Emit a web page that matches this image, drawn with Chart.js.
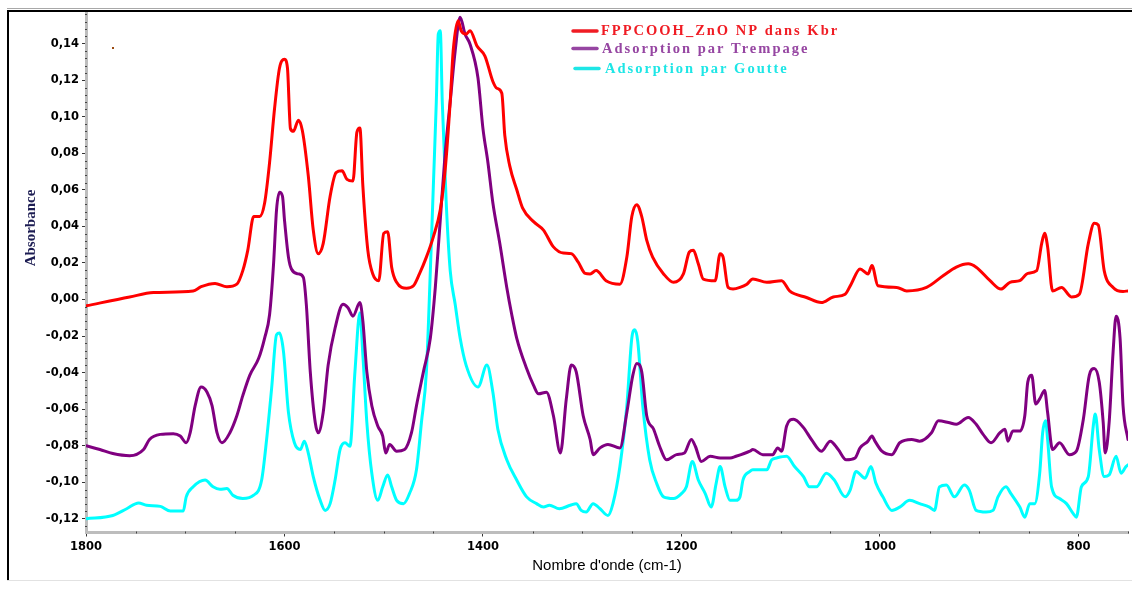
<!DOCTYPE html>
<html>
<head>
<meta charset="utf-8">
<script src="https://cdn.jsdelivr.net/npm/chart.js@4.4.1/dist/chart.umd.min.js"></script>
<style>
  html, body { margin: 0; padding: 0; background: #fff; }
  #wrap { width: 1132px; height: 595px; }
</style>
</head>
<body>
<div id="wrap"><canvas id="spectre" width="1132" height="595"></canvas></div>
<script>
// spectres : [nombre d'onde (cm-1), absorbance]
const seriesLabels = ['FPPCOOH_ZnO NP dans Kbr', 'Adsorption par Trempage', 'Adsorption par Goutte'];

const kbrSpectrum = [
  [1800,-0.0035],[1756,0.0014],[1732,0.0038],[1692,0.0047],[1684,0.0070],[1670,0.0088],[1658,0.0070],[1648,0.0084],
  [1642,0.0158],[1637,0.0269],[1631,0.0454],[1625,0.0454],[1620,0.0528],[1615,0.0750],[1610,0.1045],[1605,0.1267],
  [1600,0.1314],[1597,0.1267],[1594,0.0935],[1591,0.0920],[1586,0.0981],[1582,0.0925],[1576,0.0676],[1571,0.0380],
  [1566,0.0251],[1561,0.0306],[1554,0.0565],[1548,0.0694],[1542,0.0704],[1537,0.0657],[1531,0.0648],[1527,0.0916],
  [1524,0.0938],[1521,0.0620],[1516,0.0269],[1511,0.0140],[1505,0.0103],[1500,0.0362],[1496,0.0371],[1492,0.0177],
  [1487,0.0094],[1477,0.0062],[1470,0.0075],[1464,0.0140],[1457,0.0232],[1450,0.0343],[1443,0.0491],[1438,0.0713],
  [1433,0.1082],[1430,0.1360],[1425,0.1526],[1422,0.1471],[1417,0.1452],[1413,0.1471],[1406,0.1387],[1398,0.1332],
  [1390,0.1193],[1386,0.1156],[1381,0.1129],[1378,0.0898],[1373,0.0731],[1366,0.0602],[1360,0.0500],[1349,0.0426],
  [1339,0.0380],[1329,0.0288],[1319,0.0254],[1311,0.0251],[1304,0.0204],[1297,0.0143],[1292,0.0140],[1286,0.0158],
  [1276,0.0103],[1262,0.0084],[1255,0.0232],[1250,0.0454],[1245,0.0519],[1240,0.0454],[1235,0.0325],[1229,0.0232],
  [1218,0.0140],[1208,0.0094],[1198,0.0140],[1192,0.0260],[1188,0.0269],[1183,0.0195],[1178,0.0112],[1166,0.0103],
  [1161,0.0251],[1158,0.0232],[1153,0.0066],[1148,0.0057],[1141,0.0066],[1134,0.0084],[1128,0.0112],[1114,0.0094],
  [1099,0.0103],[1091,0.0047],[1074,0.0011],[1059,-0.0017],[1047,0.0014],[1035,0.0029],[1029,0.0084],[1020,0.0167],
  [1012,0.0140],[1008,0.0186],[1002,0.0075],[983,0.0066],[973,0.0047],[953,0.0066],[936,0.0131],[923,0.0177],
  [911,0.0195],[903,0.0177],[889,0.0103],[878,0.0057],[869,0.0094],[859,0.0103],[851,0.0143],[842,0.0158],
  [837,0.0306],[834,0.0362],[831,0.0288],[826,0.0047],[817,0.0066],[807,0.0014],[799,0.0029],[790,0.0306],
  [784,0.0417],[780,0.0408],[774,0.0158],[765,0.0066],[755,0.0044],[750,0.0047]
];

const trempageSpectrum = [
  [1800,-0.0800],[1786,-0.0821],[1773,-0.0843],[1756,-0.0855],[1742,-0.0821],[1736,-0.0766],[1725,-0.0738],[1712,-0.0734],
  [1705,-0.0747],[1699,-0.0784],[1695,-0.0729],[1690,-0.0581],[1684,-0.0479],[1678,-0.0507],[1673,-0.0581],[1668,-0.0729],
  [1663,-0.0784],[1655,-0.0729],[1648,-0.0636],[1642,-0.0526],[1635,-0.0415],[1626,-0.0322],[1620,-0.0211],[1615,-0.0082],
  [1611,0.0195],[1608,0.0491],[1605,0.0587],[1602,0.0565],[1600,0.0436],[1596,0.0232],[1593,0.0167],[1586,0.0140],
  [1581,0.0121],[1578,-0.0026],[1574,-0.0396],[1569,-0.0673],[1566,-0.0729],[1561,-0.0618],[1556,-0.0359],[1549,-0.0156],
  [1541,-0.0026],[1536,-0.0045],[1531,-0.0091],[1524,-0.0017],[1521,-0.0119],[1517,-0.0396],[1512,-0.0581],[1506,-0.0692],
  [1501,-0.0747],[1498,-0.0840],[1494,-0.0793],[1487,-0.0830],[1479,-0.0821],[1472,-0.0729],[1467,-0.0581],[1460,-0.0396],
  [1453,-0.0211],[1448,0.0066],[1443,0.0436],[1438,0.0805],[1433,0.1082],[1428,0.1360],[1423,0.1545],[1418,0.1452],
  [1413,0.1397],[1405,0.1212],[1400,0.0935],[1395,0.0750],[1390,0.0528],[1383,0.0306],[1376,0.0066],[1371,-0.0082],
  [1366,-0.0211],[1356,-0.0378],[1349,-0.0470],[1344,-0.0516],[1336,-0.0507],[1329,-0.0636],[1322,-0.0840],[1316,-0.0544],
  [1311,-0.0359],[1306,-0.0396],[1299,-0.0636],[1292,-0.0766],[1289,-0.0849],[1282,-0.0812],[1274,-0.0793],[1262,-0.0812],
  [1255,-0.0618],[1249,-0.0415],[1245,-0.0350],[1240,-0.0396],[1235,-0.0636],[1228,-0.0710],[1222,-0.0803],[1215,-0.0877],
  [1205,-0.0849],[1197,-0.0840],[1190,-0.0766],[1186,-0.0803],[1180,-0.0886],[1171,-0.0858],[1161,-0.0867],[1151,-0.0867],
  [1145,-0.0858],[1131,-0.0830],[1128,-0.0821],[1118,-0.0849],[1108,-0.0849],[1103,-0.0812],[1099,-0.0830],[1094,-0.0692],
  [1087,-0.0655],[1077,-0.0701],[1069,-0.0766],[1059,-0.0830],[1050,-0.0775],[1042,-0.0821],[1034,-0.0877],[1025,-0.0867],
  [1020,-0.0812],[1012,-0.0775],[1008,-0.0747],[1005,-0.0775],[998,-0.0830],[988,-0.0849],[980,-0.0784],[968,-0.0766],
  [960,-0.0775],[948,-0.0729],[941,-0.0664],[931,-0.0673],[923,-0.0683],[911,-0.0646],[903,-0.0683],[896,-0.0738],
  [888,-0.0784],[879,-0.0729],[874,-0.0710],[871,-0.0775],[866,-0.0720],[859,-0.0720],[854,-0.0636],[851,-0.0452],
  [847,-0.0415],[843,-0.0572],[839,-0.0544],[834,-0.0498],[831,-0.0618],[826,-0.0821],[819,-0.0784],[809,-0.0849],
  [802,-0.0830],[795,-0.0655],[789,-0.0415],[784,-0.0378],[779,-0.0452],[775,-0.0673],[773,-0.0840],[769,-0.0673],
  [765,-0.0285],[762,-0.0091],[758,-0.0211],[755,-0.0581],[750,-0.0766]
];

const goutteSpectrum = [
  [1800,-0.1200],[1773,-0.1182],[1759,-0.1145],[1747,-0.1113],[1739,-0.1126],[1725,-0.1132],[1715,-0.1158],[1702,-0.1158],
  [1699,-0.1080],[1692,-0.1025],[1680,-0.0988],[1672,-0.1025],[1665,-0.1039],[1658,-0.1034],[1652,-0.1071],[1642,-0.1089],
  [1631,-0.1071],[1623,-0.0988],[1618,-0.0766],[1613,-0.0489],[1608,-0.0193],[1605,-0.0184],[1601,-0.0285],[1596,-0.0618],
  [1590,-0.0784],[1584,-0.0821],[1580,-0.0775],[1576,-0.0840],[1571,-0.0969],[1564,-0.1099],[1559,-0.1154],[1554,-0.1117],
  [1549,-0.0988],[1544,-0.0821],[1539,-0.0784],[1534,-0.0803],[1529,-0.0396],[1524,-0.0073],[1521,-0.0304],[1517,-0.0673],
  [1512,-0.0951],[1506,-0.1099],[1501,-0.1025],[1496,-0.0960],[1492,-0.1025],[1487,-0.1099],[1480,-0.1117],[1474,-0.1062],
  [1467,-0.0932],[1462,-0.0673],[1457,-0.0396],[1453,0.0158],[1450,0.0620],[1447,0.1082],[1445,0.1452],[1443,0.1471],
  [1441,0.1082],[1437,0.0528],[1433,0.0158],[1428,-0.0026],[1423,-0.0211],[1417,-0.0359],[1405,-0.0479],[1396,-0.0359],
  [1390,-0.0507],[1385,-0.0710],[1376,-0.0877],[1366,-0.0988],[1356,-0.1080],[1346,-0.1117],[1339,-0.1136],[1333,-0.1126],
  [1323,-0.1145],[1312,-0.1126],[1306,-0.1117],[1301,-0.1154],[1296,-0.1163],[1289,-0.1117],[1282,-0.1145],[1274,-0.1182],
  [1269,-0.1117],[1262,-0.0914],[1255,-0.0581],[1250,-0.0211],[1247,-0.0165],[1244,-0.0230],[1239,-0.0581],[1232,-0.0877],
  [1225,-0.1006],[1218,-0.1080],[1208,-0.1089],[1200,-0.1062],[1195,-0.1025],[1189,-0.0886],[1183,-0.0988],[1176,-0.1062],
  [1170,-0.1136],[1165,-0.1006],[1161,-0.0914],[1156,-0.1025],[1151,-0.1099],[1145,-0.1099],[1141,-0.1080],[1138,-0.0988],
  [1131,-0.0941],[1128,-0.0932],[1114,-0.0932],[1109,-0.0877],[1104,-0.0867],[1094,-0.0858],[1086,-0.0914],[1077,-0.0969],
  [1071,-0.1025],[1064,-0.1025],[1054,-0.0951],[1046,-0.0988],[1035,-0.1080],[1030,-0.1043],[1024,-0.0941],[1015,-0.0978],
  [1009,-0.0914],[1004,-0.1006],[997,-0.1080],[988,-0.1154],[980,-0.1136],[970,-0.1099],[960,-0.1117],[950,-0.1136],
  [945,-0.1154],[940,-0.1025],[933,-0.1015],[925,-0.1080],[915,-0.1015],[910,-0.1043],[903,-0.1154],[893,-0.1163],
  [886,-0.1154],[881,-0.1080],[873,-0.1025],[868,-0.1062],[859,-0.1136],[854,-0.1191],[849,-0.1117],[844,-0.1117],
  [839,-0.0951],[836,-0.0729],[833,-0.0664],[831,-0.0766],[827,-0.1025],[819,-0.1089],[812,-0.1117],[805,-0.1173],
  [802,-0.1191],[797,-0.1025],[790,-0.0969],[785,-0.0692],[783,-0.0627],[779,-0.0821],[774,-0.0969],[769,-0.0960],
  [762,-0.0858],[757,-0.0951],[752,-0.0914],[750,-0.0905]
];

const xTickLabels = [1800, 1600, 1400, 1200, 1000, 800];
const yTickLabels = [0.14, 0.12, 0.10, 0.08, 0.06, 0.04, 0.02, 0.00, -0.02, -0.04, -0.06, -0.08, -0.10, -0.12];

const lineColors = ['#ff0000', '#800080', '#00ffff'];
const legendTextColors = ['#f01c24', '#9646a2', '#1ee6e6'];

const tickFont = { family: "'DejaVu Sans', Verdana, sans-serif", weight: 'bold', size: 11.5 };

function isMajorX(v) { return xTickLabels.indexOf(Math.round(v)) !== -1; }
function isMajorY(v) { return yTickLabels.some(t => Math.abs(t - v) < 1e-6); }
function fmtY(v) {
  if (Math.abs(v) < 1e-9) v = 0;
  return v.toFixed(2).replace('.', ',');
}

// cadre, titre vertical, tirets mineurs et legende
const decor = {
  id: 'decor',
  beforeDraw(chart) {
    const { ctx } = chart;
    ctx.save();
    ctx.fillStyle = '#fff';
    ctx.fillRect(0, 0, chart.width, chart.height);
    ctx.fillStyle = '#a8a8a8';
    ctx.fillRect(7, 8, chart.width - 7, 1);
    ctx.fillStyle = '#000';
    ctx.fillRect(7, 10, chart.width - 7, 2);
    ctx.fillRect(7, 10, 2, 571);
    ctx.fillStyle = '#e2e2e2';
    ctx.fillRect(7, 580, chart.width - 7, 1);
    ctx.fillStyle = '#9a4a10';
    ctx.fillRect(112, 47, 2, 2);
    ctx.restore();
  },
  afterDraw(chart) {
    const { ctx, chartArea } = chart;
    const xs = chart.scales.x, ys = chart.scales.y;
    ctx.save();
    ctx.fillStyle = '#444';
    ys.ticks.forEach(t => {
      if (!isMajorY(t.value)) ctx.fillRect(chartArea.left - 1, Math.round(ys.getPixelForValue(t.value)), 2, 1);
    });
    xs.ticks.forEach(t => {
      if (!isMajorX(t.value)) ctx.fillRect(Math.round(xs.getPixelForValue(t.value)), chartArea.bottom - 1, 1, 2);
    });

    ctx.translate(31, 228);
    ctx.rotate(-Math.PI / 2);
    ctx.font = "bold 15px 'Liberation Serif', 'Times New Roman', serif";
    ctx.fillStyle = '#1c1c52';
    ctx.textAlign = 'center';
    ctx.textBaseline = 'middle';
    ctx.fillText('Absorbance', 0, 0);
    ctx.restore();

    ctx.save();
    const rows = [
      { y: 31, x0: 573, tx: 601 },
      { y: 48.5, x0: 573, tx: 602 },
      { y: 68.5, x0: 575, tx: 605 }
    ];
    ctx.font = "bold 14.5px 'Liberation Serif', 'Times New Roman', serif";
    ctx.letterSpacing = '2px';
    ctx.textBaseline = 'middle';
    ctx.lineCap = 'round';
    chart.data.datasets.forEach((ds, i) => {
      const r = rows[i];
      ctx.strokeStyle = legendTextColors[i];
      ctx.lineWidth = 3.5;
      ctx.beginPath();
      ctx.moveTo(r.x0, r.y);
      ctx.lineTo(r.x0 + 24, r.y);
      ctx.stroke();
      ctx.fillStyle = legendTextColors[i];
      ctx.fillText(ds.label, r.tx, r.y + 0.5);
    });
    ctx.restore();
  }
};

const spectra = [kbrSpectrum, trempageSpectrum, goutteSpectrum];

const config = {
  type: 'line',
  data: {
    datasets: spectra.map((s, i) => ({
      label: seriesLabels[i],
      data: s.map(p => ({ x: p[0], y: p[1] })),
      borderColor: lineColors[i],
      borderWidth: 3,
      pointRadius: 0,
      fill: false,
      cubicInterpolationMode: 'monotone',
      borderJoinStyle: 'round',
      borderCapStyle: 'round'
    }))
  },
  options: {
    responsive: false,
    animation: false,
    devicePixelRatio: 1,
    layout: { padding: { left: 0, right: 3.7, top: 13.5, bottom: 0 } },
    scales: {
      x: {
        type: 'linear',
        reverse: true,
        min: 750,
        max: 1800,
        afterBuildTicks: (scale) => {
          const t = [];
          for (let v = 1800; v >= 750; v -= 50) t.push({ value: v });
          scale.ticks = t;
        },
        afterFit: (scale) => { scale.height = 62.5; },
        border: { display: true, color: '#bdbdbd', width: 3 },
        grid: {
          drawOnChartArea: false,
          drawTicks: true,
          tickLength: 4,
          tickColor: (c) => (c.tick && isMajorX(c.tick.value)) ? '#333' : 'rgba(0,0,0,0)'
        },
        ticks: {
          autoSkip: false,
          maxRotation: 0,
          padding: 4,
          color: '#000',
          font: tickFont,
          callback: (v) => isMajorX(v) ? String(Math.round(v)) : ''
        },
        title: {
          display: true,
          text: "Nombre d'onde (cm-1)",
          color: '#000',
          font: { family: "'Liberation Sans Narrow', 'Liberation Sans', Arial, sans-serif", size: 15 },
          padding: { top: 0, bottom: 20 }
        }
      },
      y: {
        min: -0.1275,
        max: 0.1565,
        afterBuildTicks: (scale) => {
          const t = [];
          for (let k = -31; k <= 39; k++) t.push({ value: k * 0.004 });
          scale.ticks = t;
        },
        afterFit: (scale) => { scale.width = 86; },
        border: { display: true, color: '#bdbdbd', width: 3 },
        grid: {
          drawOnChartArea: false,
          drawTicks: true,
          tickLength: 4,
          tickColor: (c) => (c.tick && isMajorY(c.tick.value)) ? '#333' : 'rgba(0,0,0,0)'
        },
        ticks: {
          autoSkip: false,
          padding: 3,
          color: '#000',
          font: tickFont,
          callback: (v) => isMajorY(v) ? fmtY(v) : ''
        }
      }
    },
    plugins: {
      legend: { display: false },
      tooltip: { enabled: false }
    }
  },
  plugins: [decor]
};

const spectreChart = new Chart(document.getElementById('spectre'), config);
</script>
</body>
</html>
